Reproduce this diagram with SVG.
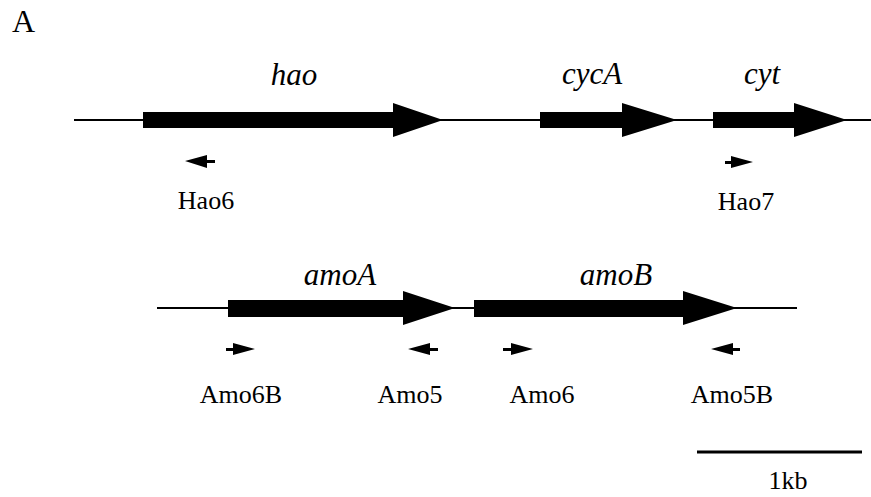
<svg xmlns="http://www.w3.org/2000/svg" width="871" height="497" viewBox="0 0 871 497">
<style>
.bb{fill:#000;stroke:none}
.ln{stroke:#000;stroke-width:2;fill:none}
</style>
<rect width="871" height="497" fill="#fff"/>
<text x="12" y="32" font-family="Liberation Serif, Times New Roman, serif" font-size="32" fill="#000">A</text>
<g id="connectors">
<line class="ln" x1="74" y1="120" x2="871" y2="120"/>
<line class="ln" x1="157" y1="308" x2="797" y2="308"/>
<line x1="697" y1="452" x2="862" y2="452" stroke="#000" stroke-width="3"/>
</g>
<g font-family="Liberation Serif, Times New Roman, serif" fill="#000" text-anchor="middle">
<g id="hao">
<polygon class="bb" points="143,112 393,112 393,103 443,120 393,137 393,128 143,128"/>
<text x="294" y="85" font-size="31" font-style="italic">hao</text>
</g>
<g id="cycA">
<polygon class="bb" points="540,112 622,112 622,103 677,120 622,137 622,128 540,128"/>
<text x="592" y="84" font-size="31" font-style="italic">cycA</text>
</g>
<g id="cyt">
<polygon class="bb" points="713,112 794,112 794,103 847,120 794,137 794,128 713,128"/>
<text x="762" y="84" font-size="31" font-style="italic">cyt</text>
</g>
<g id="amoA">
<polygon class="bb" points="228,300 403,300 403,291 455,308 403,325 403,317 228,317"/>
<text x="340" y="285" font-size="31" font-style="italic">amoA</text>
</g>
<g id="amoB">
<polygon class="bb" points="474,300 683,300 683,291 737,308 683,325 683,317 474,317"/>
<text x="616" y="285" font-size="31" font-style="italic">amoB</text>
</g>
<g id="Hao6">
<polygon class="bb" points="185,161 207,155 207,160 215,160 215,163 207,163 207,168"/>
<text x="206" y="209" font-size="26">Hao6</text>
</g>
<g id="Hao7">
<polygon class="bb" points="753,162 731,156 731,161 725,161 725,164 731,164 731,168"/>
<text x="746" y="210" font-size="26">Hao7</text>
</g>
<g id="Amo6B">
<polygon class="bb" points="255,349 233,343 233,348 226,348 226,351 233,351 233,355"/>
<text x="241" y="403" font-size="26">Amo6B</text>
</g>
<g id="Amo5">
<polygon class="bb" points="408,349 430,343 430,348 438,348 438,351 430,351 430,355"/>
<text x="410" y="403" font-size="26">Amo5</text>
</g>
<g id="Amo6">
<polygon class="bb" points="533,349 511,343 511,348 503,348 503,351 511,351 511,355"/>
<text x="542" y="403" font-size="26">Amo6</text>
</g>
<g id="Amo5B">
<polygon class="bb" points="711,349 733,343 733,348 740,348 740,351 733,351 733,355"/>
<text x="732" y="403" font-size="26">Amo5B</text>
</g>
<g id="scale">
<text x="788" y="489" font-size="26">1kb</text>
</g>
</g>
</svg>
